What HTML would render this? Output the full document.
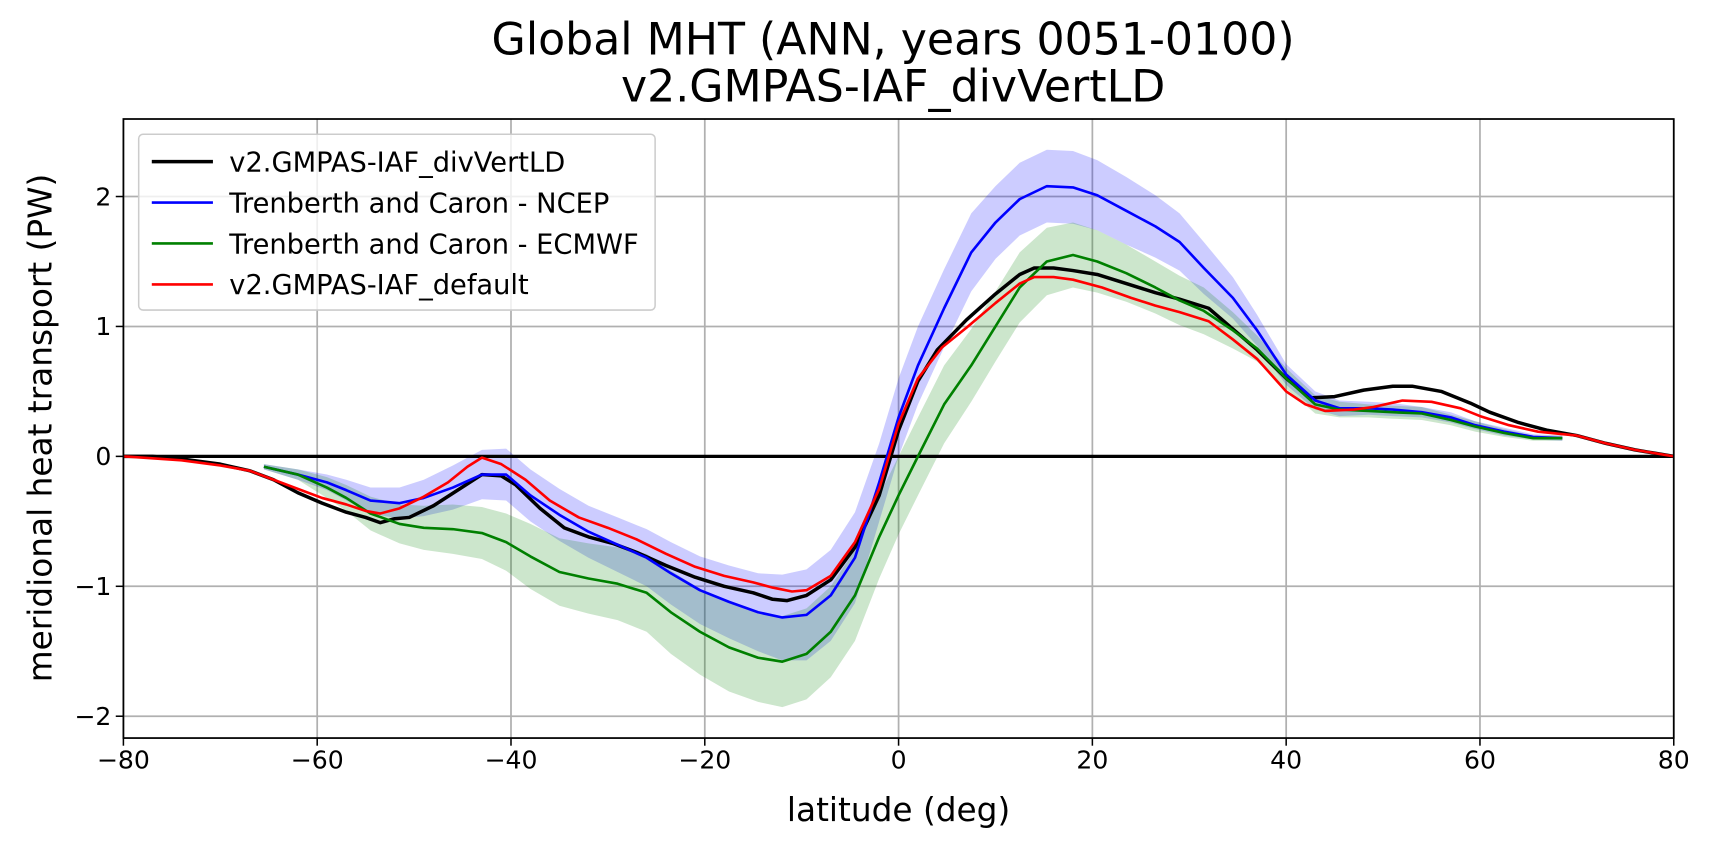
<!DOCTYPE html>
<html><head><meta charset="utf-8"><style>
body{margin:0;background:#fff;font-family:"Liberation Sans","DejaVu Sans",sans-serif;overflow:hidden}
svg text{font-family:"DejaVu Sans","Liberation Sans",sans-serif}
</style></head><body>
<svg id="c" width="1712" height="848" viewBox="0 0 1568 776.7"></svg>
<script>
const latNCEP=[-65.5,-62,-59,-57,-54.5,-51.5,-49,-46,-43,-40.5,-38,-35,-32,-29,-26,-23.5,-20.5,-17.5,-14.5,-12,-9.5,-7,-4.5,-2,0,2,4.7,7.5,10,12.5,15.3,18,20.5,23.5,26.5,29,31.5,34.5,37,40,43,45.5,48.5,51,54,57,59.5,62.5,65.5,68.5];
const ncep=[-0.08,-0.14,-0.2,-0.26,-0.34,-0.36,-0.32,-0.24,-0.14,-0.14,-0.3,-0.45,-0.58,-0.68,-0.78,-0.9,-1.03,-1.12,-1.2,-1.24,-1.22,-1.07,-0.78,-0.2,0.3,0.7,1.14,1.57,1.8,1.98,2.08,2.07,2.01,1.89,1.77,1.65,1.45,1.22,0.97,0.63,0.43,0.37,0.37,0.36,0.34,0.3,0.24,0.19,0.15,0.14];
const ncepErr=[0.02,0.04,0.06,0.08,0.1,0.12,0.14,0.17,0.19,0.2,0.2,0.2,0.2,0.21,0.22,0.24,0.26,0.28,0.3,0.33,0.35,0.35,0.35,0.3,0.3,0.3,0.3,0.3,0.28,0.28,0.28,0.28,0.27,0.26,0.24,0.22,0.2,0.16,0.12,0.08,0.07,0.06,0.05,0.05,0.04,0.04,0.03,0.03,0.02,0.02];
const ecmwf=[-0.08,-0.14,-0.24,-0.32,-0.44,-0.52,-0.55,-0.56,-0.59,-0.66,-0.77,-0.89,-0.94,-0.98,-1.05,-1.2,-1.35,-1.47,-1.55,-1.58,-1.52,-1.35,-1.07,-0.62,-0.3,0.0,0.4,0.7,1.0,1.3,1.5,1.55,1.5,1.41,1.3,1.2,1.12,0.97,0.83,0.6,0.4,0.36,0.35,0.34,0.33,0.28,0.23,0.18,0.14,0.14];
const ecmwfErr=[0.02,0.04,0.08,0.1,0.13,0.15,0.17,0.19,0.2,0.22,0.25,0.26,0.27,0.28,0.3,0.32,0.33,0.34,0.34,0.35,0.35,0.35,0.35,0.32,0.3,0.3,0.3,0.28,0.27,0.27,0.26,0.25,0.24,0.22,0.2,0.19,0.18,0.14,0.1,0.08,0.07,0.06,0.05,0.05,0.05,0.04,0.04,0.03,0.02,0.02];
const latModel=[-80,-77,-74,-70,-67,-64.5,-62,-59.5,-57,-55,-53.5,-52,-50.5,-48,-45.5,-43,-41,-39.5,-37,-34.5,-32,-29.5,-27,-24,-21,-18,-15,-13,-11.5,-9.5,-7,-4.5,-2,0,2,4,7,10,12.5,14,16,18,20.5,23.5,26.5,29,32,34.5,37,40,42.5,45,48,51,53,56,59,61,64,67,70,73,76,80];
const model=[0,0,-0.02,-0.06,-0.11,-0.18,-0.28,-0.36,-0.43,-0.47,-0.51,-0.48,-0.47,-0.38,-0.26,-0.14,-0.15,-0.22,-0.4,-0.55,-0.62,-0.67,-0.74,-0.84,-0.93,-1.0,-1.05,-1.1,-1.11,-1.07,-0.95,-0.7,-0.3,0.2,0.58,0.82,1.05,1.25,1.4,1.45,1.45,1.43,1.4,1.33,1.26,1.21,1.14,0.98,0.82,0.6,0.45,0.46,0.51,0.54,0.54,0.5,0.41,0.34,0.26,0.2,0.16,0.1,0.05,0];
const latDef=[-80,-74,-70,-67,-64.5,-62,-59.5,-57,-55,-53.5,-51.5,-49,-46.5,-44.5,-43,-41,-38.5,-36,-33,-30,-27,-24,-21,-18,-15,-13,-11,-9.5,-7,-4.5,-2,0,2,4.5,7,10,12.5,14,16,18,21,24,26.5,29,32,34.5,37,40,42,44,47,49,52,55,58,60,63,66,70,73,76,80];
const deflt=[0,-0.03,-0.07,-0.11,-0.18,-0.25,-0.32,-0.37,-0.42,-0.44,-0.4,-0.31,-0.2,-0.08,-0.01,-0.06,-0.18,-0.34,-0.47,-0.55,-0.64,-0.75,-0.85,-0.92,-0.97,-1.01,-1.04,-1.03,-0.92,-0.66,-0.25,0.25,0.6,0.84,0.99,1.18,1.33,1.38,1.38,1.36,1.3,1.22,1.16,1.11,1.04,0.9,0.75,0.5,0.4,0.35,0.36,0.38,0.43,0.42,0.37,0.31,0.24,0.19,0.16,0.1,0.05,0];
const xTicks=[-80,-60,-40,-20,0,20,40,60,80];
const yTicks=[-2,-1,0,1,2];

const svg=document.getElementById('c');const NS='http://www.w3.org/2000/svg';
const L=113,R=1533,T=109,B=676;
const X=v=>L+(v+80)/160*(R-L);
const Y=v=>418-v*119;
function mk(tag,attrs,parent){const e=document.createElementNS(NS,tag);for(const k in attrs)e.setAttribute(k,attrs[k]);(parent||svg).appendChild(e);return e;}
xTicks.forEach(t=>{const g=mk('line',{x1:X(t),x2:X(t),y1:T,y2:B,stroke:'#b0b0b0','stroke-width':1.6});


const tk=mk('line',{x1:X(t),x2:X(t),y1:B,y2:B+7,stroke:'#000','stroke-width':1.4});


const tx=mk('text',{x:X(t),y:B+28,'text-anchor':'middle','font-size':23});tx.textContent=(t<0?'\u2212'+(-t):t);

});
yTicks.forEach(t=>{const g=mk('line',{x1:L,x2:R,y1:Y(t),y2:Y(t),stroke:'#b0b0b0','stroke-width':1.6});


const tk=mk('line',{x1:L-7,x2:L,y1:Y(t),y2:Y(t),stroke:'#000','stroke-width':1.4});


const tx=mk('text',{x:L-11,y:Y(t)+8,'text-anchor':'end','font-size':23});tx.textContent=(t<0?'\u2212'+(-t):t);

});
const clip=mk('clipPath',{id:'pc'});mk('rect',{x:L,y:T,width:R-L,height:B-T},clip);
function band(lat,v,e,color,name){let d='';lat.forEach((a,i)=>d+=(i?'L':'M')+X(a)+','+Y(v[i]+e[i]));
for(let i=lat.length-1;i>=0;i--)d+='L'+X(lat[i])+','+Y(v[i]-e[i]);
const p=mk('path',{d:d+'Z',fill:color,'fill-opacity':0.2,'clip-path':'url(#pc)'});

}
function line(lat,v,color,w,name){const p=mk('path',{d:lat.map((a,i)=>(i?'L':'M')+X(a)+','+Y(v[i])).join(''),fill:'none',stroke:color,'stroke-width':w,'stroke-linejoin':'round','clip-path':'url(#pc)'});

}
band(latNCEP,ncep,ncepErr,'#0000ff','ncep-uncertainty-band');
band(latNCEP,ecmwf,ecmwfErr,'#008000','ecmwf-uncertainty-band');
const z=mk('line',{x1:L,x2:R,y1:Y(0),y2:Y(0),stroke:'#000','stroke-width':3});


line(latModel,model,'#000',3.2,'divvertld-line');
line(latNCEP,ncep,'#0000ff',2.4,'ncep-line');
line(latNCEP,ecmwf,'#008000',2.4,'ecmwf-line');
line(latDef,deflt,'#ff0000',2.4,'default-line');
const fr=mk('rect',{x:L,y:T,width:R-L,height:B-T,fill:'none',stroke:'#000','stroke-width':1.6});


const lg=mk('g',{});


mk('rect',{x:127,y:123,width:473,height:161,rx:4,fill:'#fff','fill-opacity':0.8,stroke:'#ccc','stroke-width':1.4},lg);
[['v2.GMPAS-IAF_divVertLD','#000',3.2],['Trenberth and Caron - NCEP','#0000ff',2.4],['Trenberth and Caron - ECMWF','#008000',2.4],['v2.GMPAS-IAF_default','#ff0000',2.4]].forEach((e,i)=>{
const y=148+i*37.5;
const en=mk('g',{},lg);


mk('line',{x1:139,x2:195,y1:y,y2:y,stroke:e[1],'stroke-width':e[2]},en);
const t=mk('text',{x:210,y:y+9,'font-size':25},en);t.textContent=e[0];});
const t1=mk('text',{x:818,y:50,'text-anchor':'middle','font-size':40.5});t1.textContent='Global MHT (ANN, years 0051-0100)';


const t2=mk('text',{x:818,y:93,'text-anchor':'middle','font-size':40.5});t2.textContent='v2.GMPAS-IAF_divVertLD';


const xl=mk('text',{x:823,y:752,'text-anchor':'middle','font-size':30});xl.textContent='latitude (deg)';


const yl=mk('text',{x:0,y:0,'text-anchor':'middle','font-size':30,transform:'translate(47,392) rotate(-90)'});yl.textContent='meridional heat transport (PW)';


</script>
</body></html>
